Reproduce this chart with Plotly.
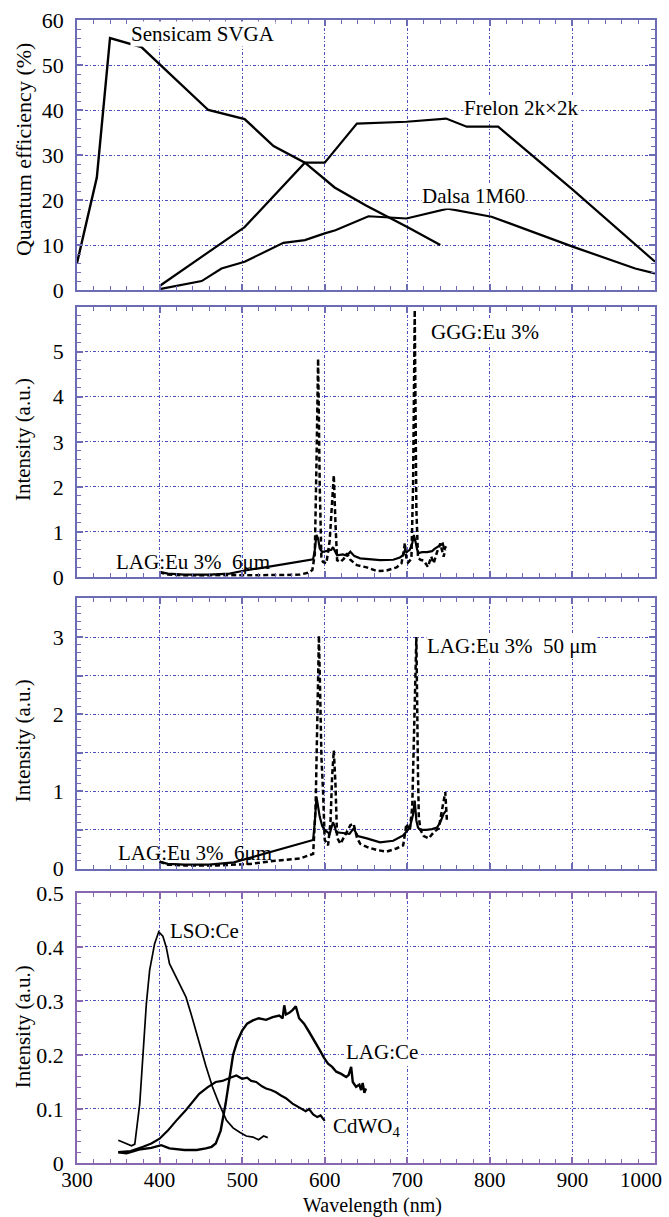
import plotly.graph_objects as go

# ---------------- data ----------------
# Panel 1: detector quantum efficiency (%)
sensicam_wl = [300, 324, 340, 378, 459, 503, 538, 576, 612, 650, 700, 740]
sensicam_qe = [6, 25, 56, 54, 40, 38, 32, 28.3, 22.8, 18.8, 14, 10]

frelon_wl = [400, 503, 576, 600, 639, 699, 747, 772, 810, 901, 1000]
frelon_qe = [0.9, 14, 28.3, 28.3, 37, 37.4, 38.1, 36.3, 36.3, 22.2, 6.3]

dalsa_wl = [400, 451, 475, 503, 550, 576, 600, 613, 653, 699, 749, 802, 901, 976, 1000]
dalsa_qe = [0.2, 2, 4.8, 6.3, 10.5, 11.1, 12.6, 13.3, 16.4, 15.9, 18.1, 16.3, 9.6, 4.8, 3.7]

# Panel 2: LAG:Eu 6 um (solid) and GGG:Eu 3% (dashed)
lag6a_wl = [400, 410, 430, 460, 485, 500, 520, 550, 570, 586, 588, 590, 592, 594, 597, 600,
            605, 608, 610, 612, 615, 622, 627, 631, 636, 643, 655, 667, 683, 691, 695, 697,
            699, 703, 706, 708, 710, 712, 714, 718, 724, 730, 733, 736, 740, 743, 745, 747]
lag6a_int = [0.11, 0.07, 0.05, 0.05, 0.07, 0.13, 0.19, 0.28, 0.34, 0.39, 0.6, 0.93, 0.85, 0.63,
             0.55, 0.56, 0.58, 0.6, 0.66, 0.58, 0.48, 0.5, 0.47, 0.56, 0.46, 0.41, 0.39, 0.37,
             0.38, 0.43, 0.48, 0.59, 0.55, 0.6, 0.75, 0.93, 0.78, 0.6, 0.53, 0.55, 0.55, 0.57,
             0.62, 0.66, 0.7, 0.74, 0.6, 0.68]

ggg_wl = [400, 410, 430, 470, 510, 550, 570, 580, 585, 588, 590, 592, 594, 596, 598, 602, 606,
          609, 611, 613, 615, 619, 623, 627, 631, 639, 651, 663, 675, 687, 693, 696, 697, 699,
          701, 705, 707, 709, 711, 713, 716, 720, 725, 729, 732, 736, 740, 744, 746]
ggg_int = [0.1, 0.05, 0.03, 0.03, 0.03, 0.04, 0.05, 0.09, 0.15, 0.5, 2.5, 4.85, 2.0, 0.4, 0.33,
           0.3, 0.8, 1.8, 2.26, 1.2, 0.37, 0.33, 0.4, 0.52, 0.38, 0.26, 0.21, 0.13, 0.14, 0.21,
           0.3, 0.6, 0.75, 0.4, 0.32, 0.4, 2.0, 5.93, 1.5, 0.42, 0.38, 0.36, 0.22, 0.45, 0.3,
           0.55, 0.74, 0.45, 0.6]

# Panel 3: LAG:Eu 6 um (solid) and LAG:Eu 50 um (dashed)
lag6b_wl = [400, 410, 430, 460, 490, 520, 550, 570, 586, 588, 590, 592, 594, 597, 600, 606, 610,
            612, 614, 622, 630, 635, 640, 651, 667, 683, 695, 703, 707, 709, 711, 713, 716, 723,
            730, 736, 740, 744, 747]
lag6b_int = [0.09, 0.06, 0.05, 0.05, 0.08, 0.17, 0.26, 0.33, 0.37, 0.6, 0.93, 0.8, 0.67, 0.55,
             0.5, 0.45, 0.6, 0.55, 0.47, 0.46, 0.45, 0.52, 0.42, 0.39, 0.34, 0.36, 0.43, 0.53,
             0.7, 0.88, 0.62, 0.53, 0.5, 0.5, 0.51, 0.53, 0.6, 0.71, 0.75]

lag50_wl = [400, 410, 430, 470, 510, 540, 570, 586, 589, 591, 593, 595, 596, 598, 600, 604, 607,
            609, 611, 613, 615, 619, 625, 631, 635, 639, 643, 651, 663, 675, 687, 695, 699, 703,
            706, 709, 711, 713, 714, 716, 720, 726, 732, 738, 741, 744, 746, 748]
lag50_int = [0.09, 0.05, 0.04, 0.04, 0.06, 0.1, 0.13, 0.19, 0.8, 2.2, 3.02, 2.0, 1.45, 1.0, 0.37,
             0.3, 0.6, 1.2, 1.53, 1.1, 0.4, 0.32, 0.45, 0.56, 0.58, 0.4, 0.32, 0.28, 0.24, 0.22,
             0.26, 0.3, 0.58, 0.49, 0.8, 2.0, 3.0, 1.2, 0.66, 0.5, 0.42, 0.39, 0.47, 0.52, 0.7,
             0.88, 0.99, 0.62]

# Panel 4: Ce-doped scintillators and CdWO4
lso_wl = [350, 360, 366, 370, 376, 384, 388, 394, 399, 404, 408, 412, 418, 424, 432, 438, 443,
          448, 456, 464, 472, 481, 489, 497, 505, 513, 520, 526, 531]
lso_int = [0.042, 0.035, 0.032, 0.035, 0.11, 0.295, 0.357, 0.406, 0.428, 0.42, 0.4, 0.369, 0.35,
           0.332, 0.307, 0.277, 0.25, 0.221, 0.18, 0.141, 0.11, 0.079, 0.065, 0.057, 0.05, 0.048,
           0.043, 0.05, 0.047]

cdwo4_wl = [350, 365, 380, 390, 400, 410, 420, 432, 448, 458, 468, 476, 484, 493, 500, 506, 511,
            517, 524, 529, 535, 541, 547, 553, 561, 566, 572, 577, 581, 586, 591, 595, 600]
cdwo4_int = [0.02, 0.022, 0.03, 0.036, 0.045, 0.06, 0.078, 0.098, 0.128, 0.14, 0.15, 0.152,
             0.157, 0.162, 0.156, 0.158, 0.152, 0.15, 0.142, 0.138, 0.135, 0.131, 0.125, 0.12,
             0.11, 0.106, 0.1, 0.096, 0.1, 0.09, 0.085, 0.088, 0.078]

lagce_wl = [350, 360, 375, 390, 402, 412, 430, 445, 456, 463, 468, 474, 480, 485, 489, 494, 500,
            506, 513, 520, 529, 537, 545, 549, 551, 553, 557, 561, 565, 569, 575, 581, 587, 594,
            599, 604, 609, 614, 620, 626, 629, 632, 634, 638, 642, 644, 646, 648, 650]
lagce_int = [0.02, 0.018, 0.025, 0.028, 0.033, 0.027, 0.024, 0.024, 0.027, 0.03, 0.036, 0.06,
             0.11, 0.16, 0.2, 0.225, 0.245, 0.258, 0.264, 0.268, 0.265, 0.27, 0.273, 0.268, 0.292,
             0.275, 0.278, 0.283, 0.29, 0.268, 0.258, 0.243, 0.228, 0.209, 0.195, 0.184, 0.178,
             0.169, 0.165, 0.159, 0.163, 0.178, 0.15, 0.141, 0.145, 0.135, 0.148, 0.13, 0.138]

x_ticks = [300, 400, 500, 600, 700, 800, 900, 1000]
# the last label is drawn separately, right-aligned against the figure edge
x_ticktext = ["300", "400", "500", "600", "700", "800", "900", ""]
x_last_label = "1000"

# ---------------- layout geometry (pixels) ----------------
W, H = 669, 1217
PLOT_L, PLOT_R = 77, 655
PLOT_TOP, PLOT_BOT = 20, 1162.7
panels_px = [(20, 290), (306.7, 576.7), (598.3, 868.3), (892.7, 1162.7)]
span = PLOT_BOT - PLOT_TOP


def ydom(top, bot):
    return [(PLOT_BOT - bot) / span, (PLOT_BOT - top) / span]


FONT = "Liberation Serif, Times New Roman, Times, serif"
FRAME = "#6c6cb4"
FRAME4 = "#8868b0"
GRID = "#4f4fc4"
GRID_DASH = "3px,2px,1px,2px"

fig = go.Figure()


def add_line(x, y, panel, width=2.0, dash="solid"):
    ax = "" if panel == 1 else str(panel)
    fig.add_trace(go.Scatter(
        x=x, y=y, mode="lines", xaxis="x" + ax, yaxis="y" + ax,
        line=dict(color="black", width=width, dash=dash, shape="linear"),
        showlegend=False, hoverinfo="skip"))


DASH = "5px,3px"

add_line(sensicam_wl, sensicam_qe, 1, 2.4)
add_line(frelon_wl, frelon_qe, 1, 2.2)
add_line(dalsa_wl, dalsa_qe, 1, 2.2)

add_line(lag6a_wl, lag6a_int, 2, 2.2)
add_line(ggg_wl, ggg_int, 2, 2.5, DASH)

add_line(lag6b_wl, lag6b_int, 3, 2.2)
add_line(lag50_wl, lag50_int, 3, 2.5, DASH)

add_line(lso_wl, lso_int, 4, 1.7)
add_line(cdwo4_wl, cdwo4_int, 4, 2.2)
add_line(lagce_wl, lagce_int, 4, 2.4)


def xaxis(panel, frame):
    return dict(
        domain=[0, 1], range=[300, 1000], anchor="y" + ("" if panel == 1 else str(panel)),
        tickvals=x_ticks, ticktext=x_ticktext, showticklabels=(panel == 4),
        showgrid=True, gridcolor=GRID, griddash=GRID_DASH, gridwidth=1.2,
        showline=True, linecolor=frame, linewidth=1.8, mirror="ticks",
        ticks="inside", ticklen=6, tickcolor=frame, tickwidth=1.5,
        minor=dict(ticks="inside", ticklen=4, dtick=20, tick0=300, tickcolor=frame,
                   tickwidth=1.3, showgrid=False),
        zeroline=False, tickfont=dict(family=FONT, size=21, color="black"),
        ticklabelstandoff=-3, ticklabeloverflow="allow", automargin=False,
    )


def yaxis(panel, frame, rng, tickvals, ticktext, minor_dtick):
    top, bot = panels_px[panel - 1]
    return dict(
        domain=ydom(top, bot), range=rng, anchor="x" + ("" if panel == 1 else str(panel)),
        tickvals=tickvals, ticktext=ticktext,
        showgrid=True, gridcolor=GRID, griddash=GRID_DASH, gridwidth=1.2,
        showline=True, linecolor=frame, linewidth=1.8, mirror="ticks",
        ticks="inside", ticklen=6, tickcolor=frame, tickwidth=1.5,
        minor=dict(ticks="inside", ticklen=4, dtick=minor_dtick, tick0=0, tickcolor=frame,
                   tickwidth=1.3, showgrid=False),
        zeroline=False, tickfont=dict(family=FONT, size=22, color="black"),
        ticklabelstandoff=7, automargin=False,
    )


fig.update_layout(
    width=W, height=H,
    margin=dict(l=PLOT_L, r=W - PLOT_R, t=PLOT_TOP, b=H - PLOT_BOT, autoexpand=False),
    paper_bgcolor="white", plot_bgcolor="white",
    font=dict(family=FONT, size=21, color="black"),
    showlegend=False,
    xaxis=xaxis(1, FRAME), xaxis2=xaxis(2, FRAME), xaxis3=xaxis(3, FRAME), xaxis4=xaxis(4, FRAME4),
    yaxis=yaxis(1, FRAME, [0, 60], [0, 10, 20, 30, 40, 50, 60],
                ["0", "10", "20", "30", "40", "50", "60"], 2),
    yaxis2=yaxis(2, FRAME, [0, 6], [0, 1, 2, 3, 4, 5, 6],
                 ["0", "1", "2", "3", "4", "5", " "], 0.2),
    yaxis3=yaxis(3, FRAME, [0, 3.5], [0, 0.5, 1, 1.5, 2, 2.5, 3, 3.5],
                 ["0", " ", "1", " ", "2", " ", "3", " "], 0.1),
    yaxis4=yaxis(4, FRAME4, [0, 0.5], [0, 0.1, 0.2, 0.3, 0.4, 0.5],
                 ["0", "0.1", "0.2", "0.3", "0.4", "0.5"], 0.02),
)


def label(text, x, y, panel, bg=True, size=21):
    ax = "" if panel == 1 else str(panel)
    fig.add_annotation(
        text=text, x=x, y=y, xref="x" + ax, yref="y" + ax,
        xanchor="left", yanchor="middle", showarrow=False,
        font=dict(family=FONT, size=size, color="black"),
        bgcolor="white" if bg else "rgba(0,0,0,0)", borderpad=0)


NB = "\u00a0"
label("Sensicam SVGA", 364, 56.9, 1)
label("Frelon 2k\u00d72k", 767, 40.4, 1)
label("Dalsa 1M60", 717, 20.9, 1)
label("GGG:Eu 3%", 727, 5.44, 2)
label("LAG:Eu 3%" + NB * 2 + "6\u03bcm", 346, 0.33, 2, bg=False)
label("LAG:Eu 3%" + NB * 2 + "50" + NB + "\u03bcm", 723, 2.89, 3)
label("LAG:Eu 3%" + NB * 2 + "6\u03bcm", 348, 0.2, 3, bg=False)
label("LSO:Ce", 412, 0.429, 4)
label("LAG:Ce", 624, 0.205, 4)
label("CdWO<sub>4</sub>", 609, 0.066, 4)

# last wavelength tick label, kept inside the figure
fig.add_annotation(
    text=x_last_label, x=x_ticks[-1], xref="x4", yref="paper",
    y=(PLOT_BOT - 1180) / span, xanchor="right", yanchor="middle", xshift=9,
    showarrow=False, font=dict(family=FONT, size=21, color="black"))

# vertical axis titles placed in paper coordinates
titles = [("Quantum efficiency (%)", 150, 22), ("Intensity (a.u.)", 440, 21),
          ("Intensity (a.u.)", 741, 21), ("Intensity (a.u.)", 1027, 21)]
for txt, ypx, size in titles:
    fig.add_annotation(
        text=txt, xref="paper", yref="paper",
        x=(23 - PLOT_L) / (PLOT_R - PLOT_L), y=(PLOT_BOT - ypx) / span,
        xanchor="center", yanchor="middle", textangle=-90, showarrow=False,
        font=dict(family=FONT, size=size, color="black"))

# horizontal axis title below the bottom panel
fig.add_annotation(
    text="Wavelength (nm)", xref="paper", yref="paper",
    x=(372 - PLOT_L) / (PLOT_R - PLOT_L), y=(PLOT_BOT - 1205) / span,
    xanchor="center", yanchor="middle", showarrow=False,
    font=dict(family=FONT, size=20, color="black"))

fig.write_html("out.html")
